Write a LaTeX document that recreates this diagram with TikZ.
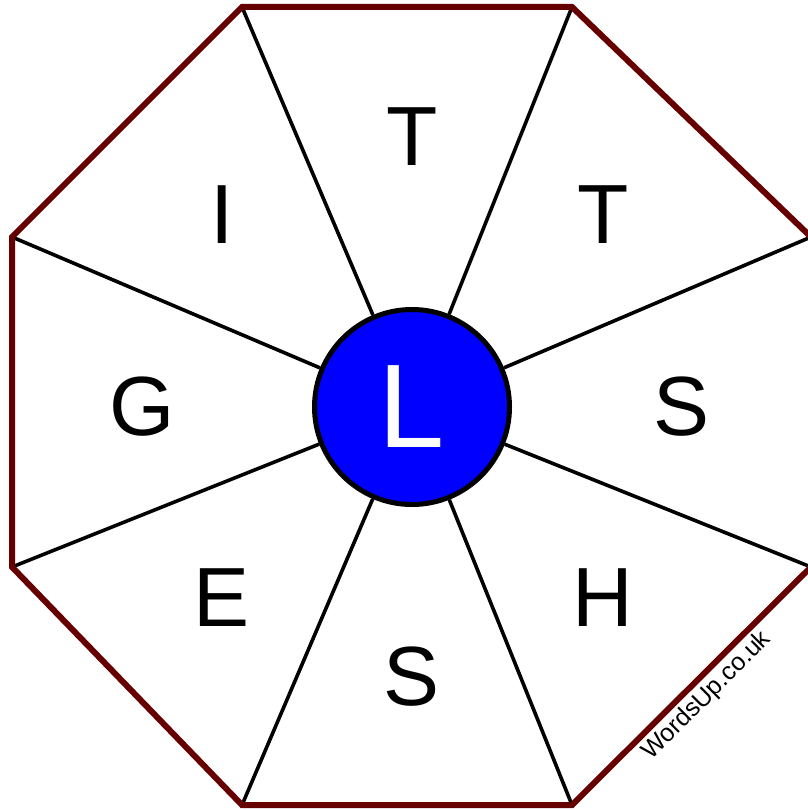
\documentclass[tikz,border=0pt]{standalone}
\usepackage{fontspec}
\setmainfont{Liberation Sans}
\usetikzlibrary{positioning}
\definecolor{bordo}{RGB}{102,0,0}
\definecolor{blu}{RGB}{0,0,255}

\begin{document}
\begin{tikzpicture}[x=1pt,y=-1pt,
        lettera/.style={font=\fontsize{84}{84}\selectfont},
        raggio/.style={line width=3.6pt}]
        \useasboundingbox (0,0) rectangle (807,810);
        %vertici ottagono
        \coordinate (v1) at (242,7);
        \coordinate (v2) at (572,7);
        \coordinate (v3) at (811,237);
        \coordinate (v4) at (811,567);
        \coordinate (v5) at (572,805);
        \coordinate (v6) at (242,805);
        \coordinate (v7) at (12,567);
        \coordinate (v8) at (12,237);
        %cerchio centrale
        \node[circle,fill=blu,draw=black,line width=5pt,minimum size=195pt,inner sep=0pt,text=white,font=\fontsize{119}{119}\selectfont] (centro) at (412,407) {L};
        %raggi
        \foreach \v in {v1,v2,v3,v4,v5,v6,v7,v8}
            \draw[raggio] (\v) -- (centro);
        %bordo
        \draw[bordo,line width=6pt] (v1) -- (v2) -- (v3) -- (v4) -- (v5) -- (v6) -- (v7) -- (v8) -- cycle;
        %lettere
        \node[lettera] (t1) at (412,137) {T};
        \node[lettera] (t2) at (603,215) {T};
        \node[lettera] (s1) at (682,407) {S};
        \node[lettera] (h) at (603,598) {H};
        \node[lettera] (s2) at (412,677) {S};
        \node[lettera] (e) at (222,598) {E};
        \node[lettera] (g) at (142,407) {G};
        \node[lettera] (i) at (222,215) {I};
        %sito
        \node[rotate=45,font=\fontsize{25}{25}\selectfont] (sito) at (707,696) {WordsUp.co.uk};
    \end{tikzpicture}
\end{document}
